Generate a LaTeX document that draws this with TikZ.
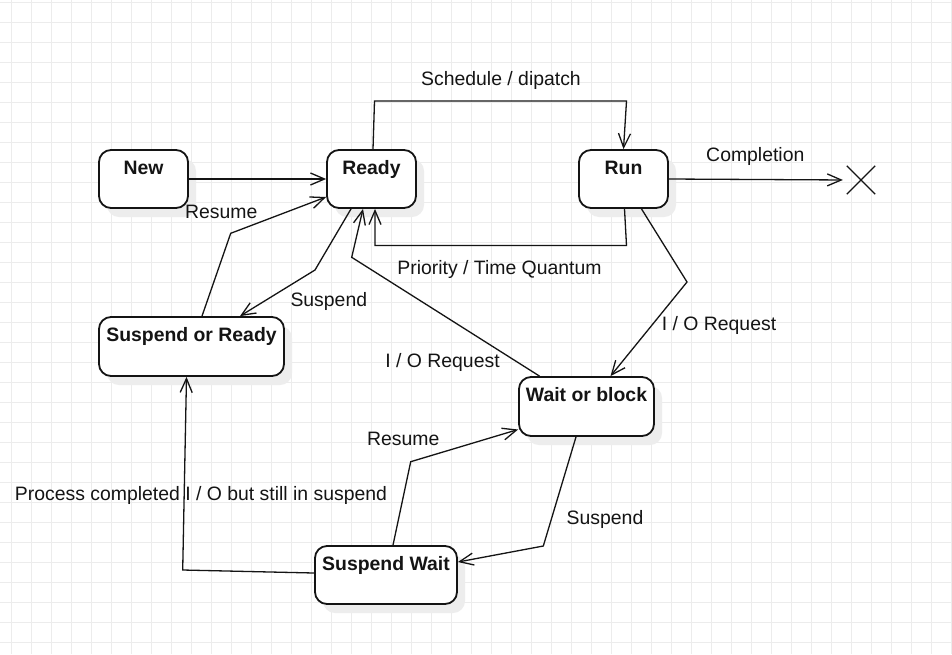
\documentclass[tikz,border=0pt]{standalone}
\usepackage{fontspec}
\setmainfont{Liberation Sans}
\usetikzlibrary{arrows.meta,shadows,shapes.misc}
\definecolor{gridc}{RGB}{236,236,236}
\definecolor{ink}{RGB}{20,20,20}
\tikzset{
  txt/.style={font=\fontsize{19.4}{23}\selectfont, text=ink, inner sep=0pt},
  state/.style={draw=ink, line width=1.8pt, rounded corners=12pt, fill=white, inner sep=0pt,
    drop shadow={shadow xshift=8pt, shadow yshift=-9pt, fill=black!7, opacity=1}},
  stlabel/.style={anchor=base, yshift=-25pt, font=\fontsize{19.4}{23}\selectfont\bfseries, text=ink, inner sep=0pt},
  edge/.style={draw=ink, line width=1.3pt, line join=miter, -{Straight Barb[length=14pt,width=12pt]}},
  plain/.style={draw=ink, line width=1.3pt}
}
\begin{document}
\begin{tikzpicture}[x=1pt,y=-1pt]
\useasboundingbox (0,0) rectangle (952,654);
\fill[white] (0,0) rectangle (952,654);
% grid
\foreach \i in {0,...,47} { \draw[gridc, line width=1pt] (11.7+20*\i,0) -- (11.7+20*\i,654); }
\foreach \j in {0,...,32} { \draw[gridc, line width=1pt] (0,2.3+20*\j) -- (952,2.3+20*\j); }

% states
\node[state, minimum width=89pt, minimum height=58pt, label={[stlabel, name=newt]north:New}] (new) at (143.5,179) {};
\node[state, minimum width=89pt, minimum height=58pt, label={[stlabel, name=readyt]north:Ready}] (ready) at (371.5,179) {};
\node[state, minimum width=89pt, minimum height=58pt, label={[stlabel, name=runt]north:Run}] (run) at (623.5,179) {};
\node[state, minimum width=185pt, minimum height=59pt, label={[stlabel, name=susreadyt]north:Suspend or Ready}] (susready) at (191.5,346.5) {};
\node[state, minimum width=135pt, minimum height=59pt, label={[stlabel, name=waitt]north:Wait or block}] (wait) at (586.5,406.5) {};
\node[state, minimum width=142pt, minimum height=58pt, label={[stlabel, name=suswaitt]north:Suspend Wait}] (suswait) at (386,575) {};
\node[draw=ink, line width=1.3pt, cross out, minimum size=27pt, inner sep=0pt] (fin) at (861,180) {};

% connectors
\draw[edge] (new.east) -- (ready.west);
\draw[edge] ([xshift=1.5pt]ready.north) -- (374.5,101) -- (626.5,101) -- (run.north);
\draw[edge] ([xshift=1pt]run.south) -- (626.5,245.5) -- (375,245.5) -- ([xshift=3.5pt]ready.south);
\draw[edge, shorten >=4pt] (run.east) -- (fin.west);
\draw[edge] ([xshift=18pt]run.south) -- (687,282) -- ([xshift=24pt]wait.north);
\draw[edge] ([xshift=-47pt]wait.north) -- (351.7,257.3) -- ([xshift=-8.5pt]ready.south);
\draw[edge] ([xshift=-20.5pt]ready.south) -- (315,270) -- ([xshift=48.5pt]susready.north);
\draw[edge] ([xshift=10.5pt]susready.north) -- (230.7,233.3) -- ([yshift=-18pt]ready.west);
\draw[edge] ([xshift=-10.5pt]wait.south) -- (543.3,546) -- ([yshift=13pt]suswait.east);
\draw[edge] ([xshift=7pt]suswait.north) -- (410.7,461.7) -- ([yshift=-23pt]wait.west);
\draw[edge] ([yshift=2pt]suswait.west) -- (182.7,570) -- ([xshift=-5pt]susready.south);

% edge labels
\node[txt, anchor=base] (l1) at (501,85.5) {Schedule / dipatch};
\node[txt, anchor=base] (l2) at (755.3,161) {Completion};
\node[txt, anchor=base] (l3) at (499.5,274) {Priority / Time Quantum};
\node[txt, anchor=base] (l4) at (442.5,367) {I / O Request};
\node[txt, anchor=base] (l5) at (719,330.7) {I / O Request};
\node[txt, anchor=base] (l6) at (221.3,218) {Resume};
\node[txt, anchor=base] (l7) at (328.8,306.7) {Suspend};
\node[txt, anchor=base] (l8) at (403.3,445.7) {Resume};
\node[txt, anchor=base] (l9) at (201,500) {Process completed I / O but still in suspend};
\node[txt, anchor=base] (l10) at (605,524) {Suspend};
\end{tikzpicture}
\end{document}
